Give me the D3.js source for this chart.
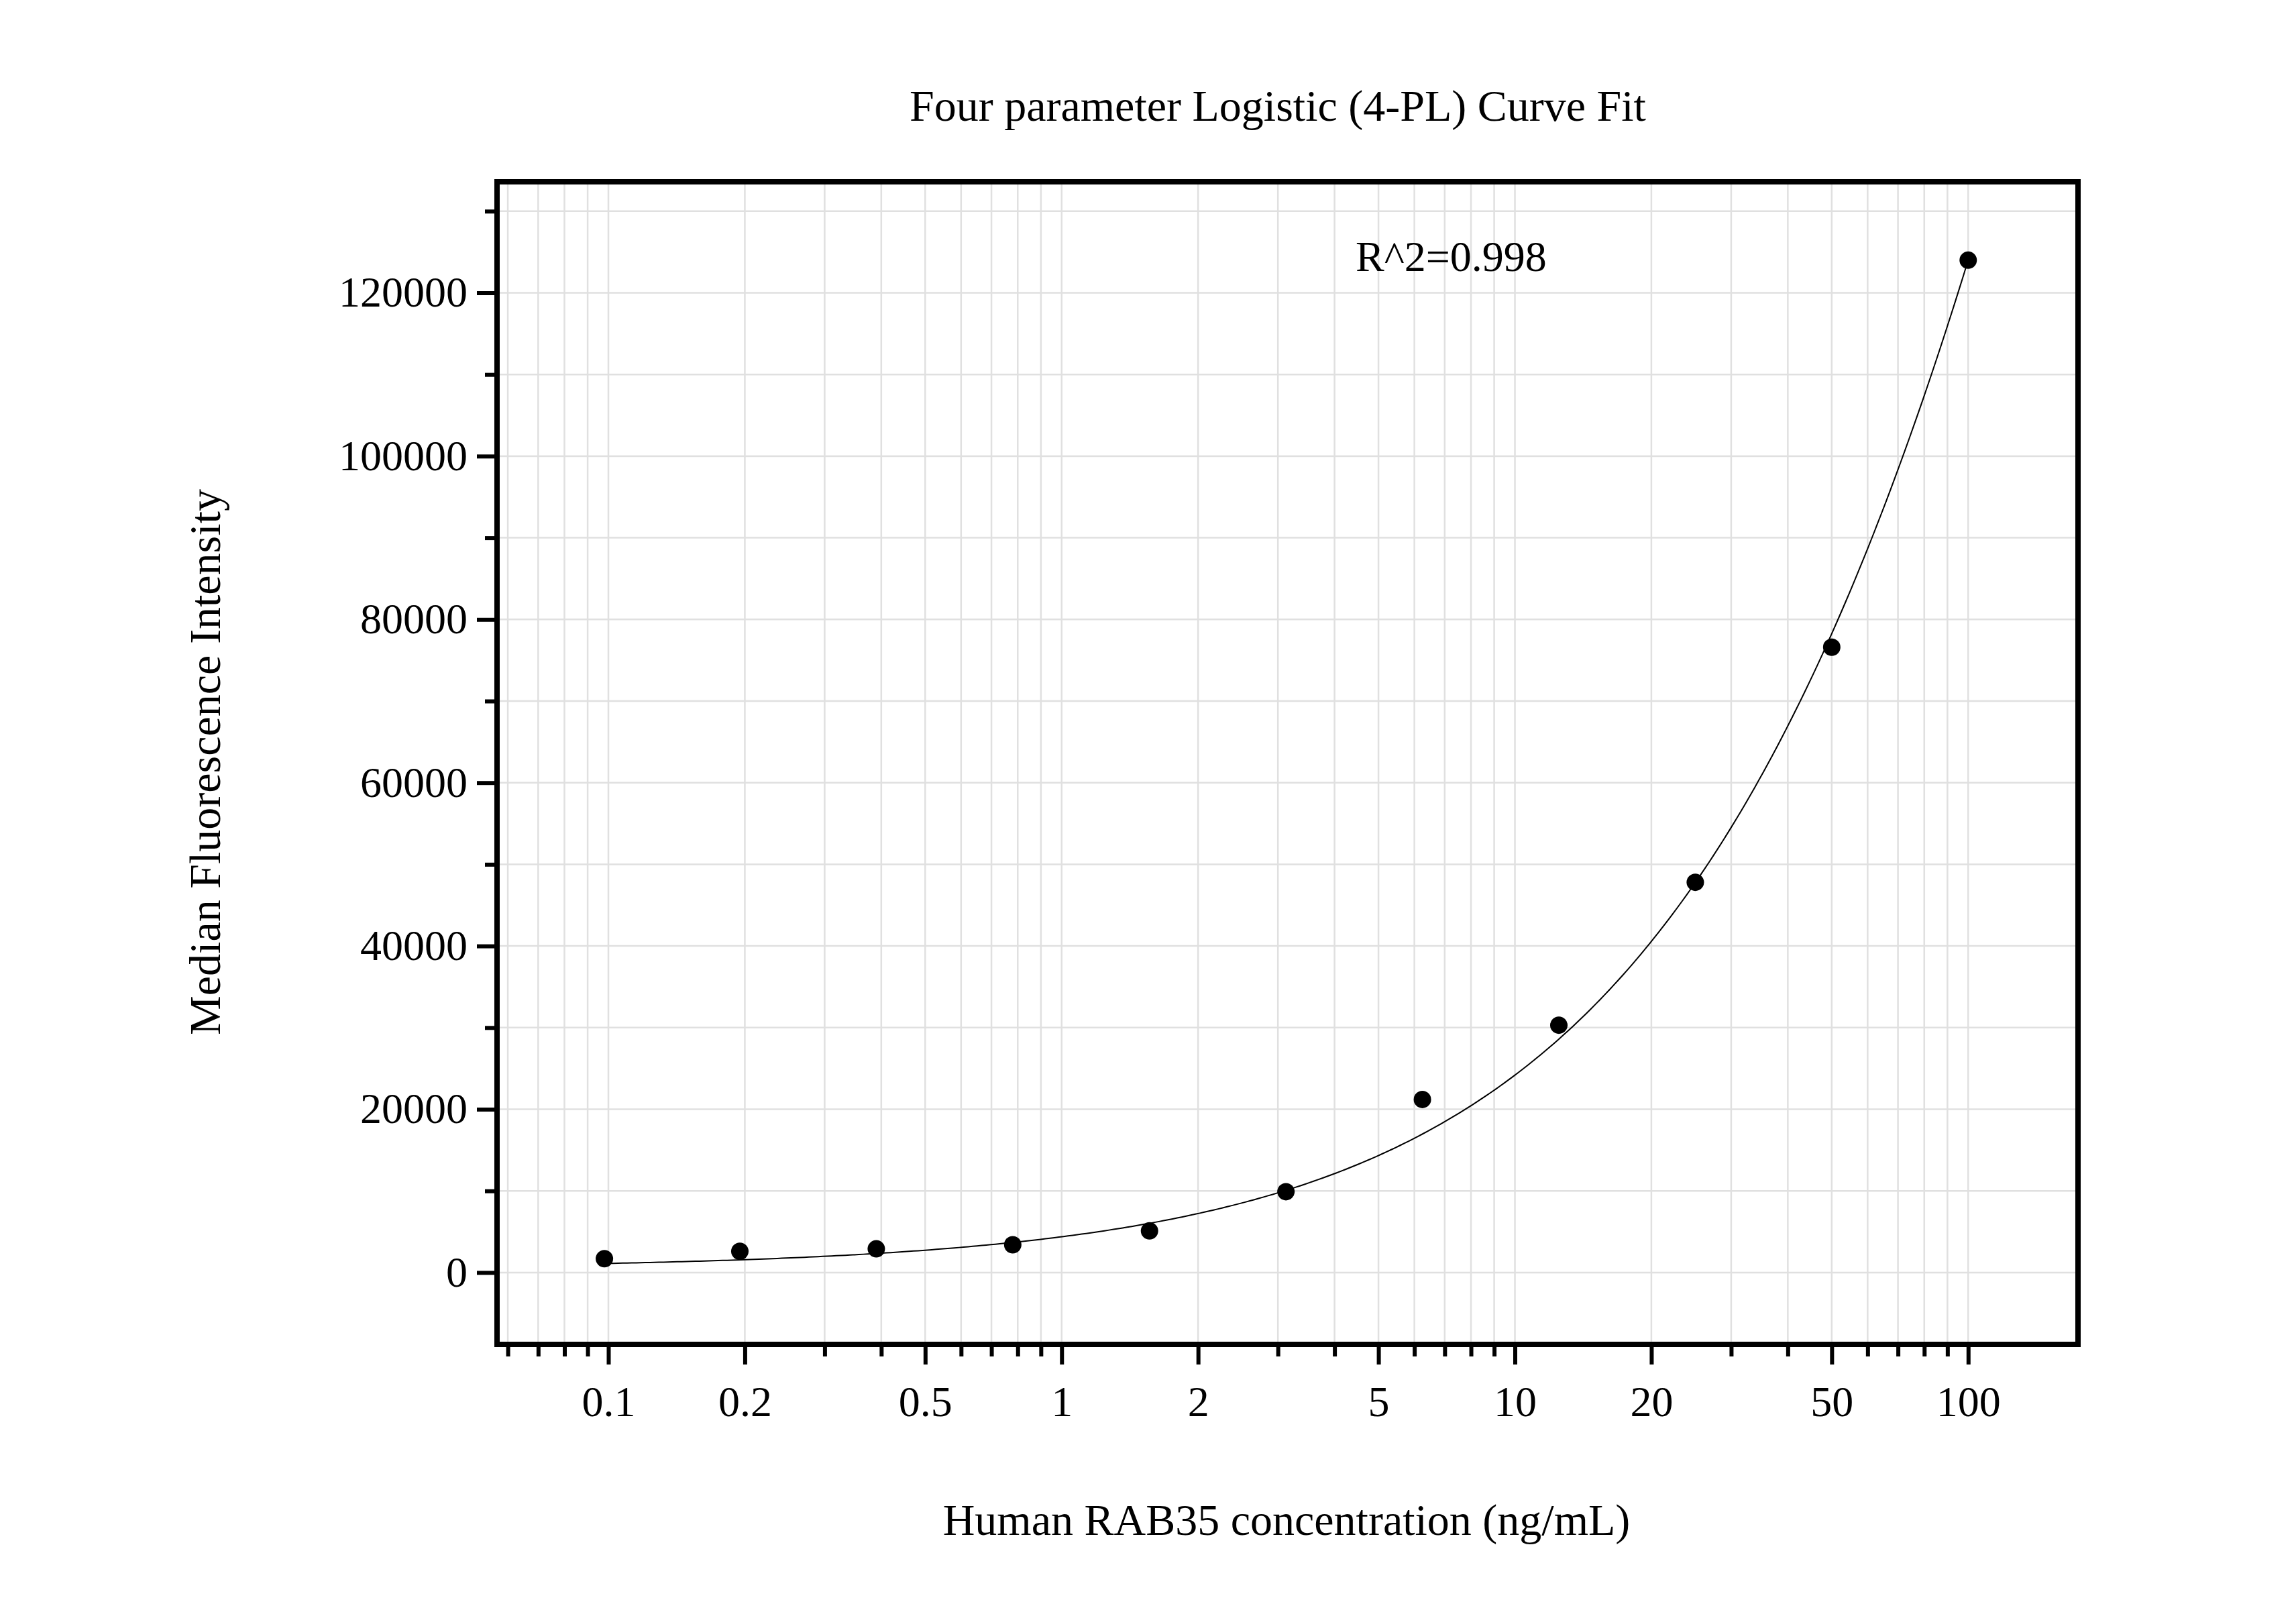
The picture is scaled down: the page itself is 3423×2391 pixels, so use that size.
<!DOCTYPE html>
<html><head><meta charset="utf-8">
<script src="https://cdn.jsdelivr.net/npm/d3@7"></script>
<style>body{margin:0;background:#fff}text{font-family:"Liberation Serif","Times New Roman",serif}</style>
</head><body><svg id="c" width="3423" height="2391"></svg>
<script>
const concentrations=[0.098,0.195,0.39,0.78,1.5625,3.125,6.25,12.5,25,50,100];
const mfi=[1700,2600,2900,3400,5100,9900,21200,30300,47800,76600,124000];
const yTicks=[0,20000,40000,60000,80000,100000,120000];
const xTicks=[0.1,0.2,0.5,1,2,5,10,20,50,100];
const fit={A:500,D:600000,C:540,B:0.8};
const svg=d3.select("#c");
const L=741,R=3098,T=271,B=2004;
const x=d3.scaleLog().domain([0.0568,174.7]).range([L,R]);
const y=d3.scaleLinear().domain([-8800,133600]).range([B,T]);
const g=svg.append("g");
const xMinor=[];for(let e=-2;e<=2;e++)for(let m=1;m<=9;m++){const v=m*Math.pow(10,e);if(v>0.0568&&v<174.7)xMinor.push(v);}
const yMinor=d3.range(0,140000,10000).filter(v=>v<133600);
g.selectAll(".gx").data(xMinor).join("line").attr("x1",d=>x(d)).attr("x2",d=>x(d)).attr("y1",T).attr("y2",B).attr("stroke","#e0e0e0").attr("stroke-width",2.5);
g.selectAll(".gy").data(yMinor).join("line").attr("x1",L).attr("x2",R).attr("y1",d=>y(d)).attr("y2",d=>y(d)).attr("stroke","#e0e0e0").attr("stroke-width",2.5);
const f=v=>fit.D+(fit.A-fit.D)/(1+Math.pow(v/fit.C,fit.B));
const cx=d3.range(0,301).map(i=>Math.pow(10,Math.log10(0.098)+i*(Math.log10(100)-Math.log10(0.098))/300));
g.append("path").datum(cx).attr("d",d3.line().x(d=>x(d)).y(d=>y(f(d)))).attr("fill","none").attr("stroke","#000").attr("stroke-width",2);
g.selectAll(".pt").data(concentrations).join("circle").attr("cx",d=>x(d)).attr("cy",(d,i)=>y(mfi[i])).attr("r",13).attr("fill","#000");
g.append("rect").attr("x",L).attr("y",T).attr("width",R-L).attr("height",B-T).attr("fill","none").attr("stroke","#000").attr("stroke-width",8);
const xa=svg.append("g").attr("transform",`translate(0,${B})`).call(d3.axisBottom(x).tickValues(xTicks).tickFormat(d3.format("~g")).tickSize(30).tickPadding(32));
const xm=svg.append("g").attr("transform",`translate(0,${B})`).call(d3.axisBottom(x).tickValues(xMinor.filter(v=>!xTicks.includes(+v.toPrecision(3)))).tickFormat("").tickSize(18));
const ya=svg.append("g").attr("transform",`translate(${L},0)`).call(d3.axisLeft(y).tickValues(yTicks).tickFormat(d3.format("d")).tickSize(30).tickPadding(14));
const ym=svg.append("g").attr("transform",`translate(${L},0)`).call(d3.axisLeft(y).tickValues(d3.range(10000,140000,20000).filter(v=>v<133600)).tickFormat("").tickSize(18));
[xa,xm,ya,ym].forEach(a=>{a.select(".domain").remove();a.selectAll("line").attr("stroke","#000").attr("stroke-width",6);a.selectAll("text").attr("font-size",64).attr("fill","#000").style("font-family","Liberation Serif");});
svg.append("text").attr("x",1905).attr("y",180).attr("text-anchor","middle").attr("font-size",66).text("Four parameter Logistic (4-PL) Curve Fit");
svg.append("text").attr("x",1918).attr("y",2288).attr("text-anchor","middle").attr("font-size",66).text("Human RAB35 concentration (ng/mL)");
svg.append("text").attr("transform","translate(328,1136) rotate(-90)").attr("text-anchor","middle").attr("font-size",66).text("Median Fluorescence Intensity");
svg.append("text").attr("x",2021).attr("y",404).attr("font-size",64).text("R^2=0.998");
</script></body></html>
